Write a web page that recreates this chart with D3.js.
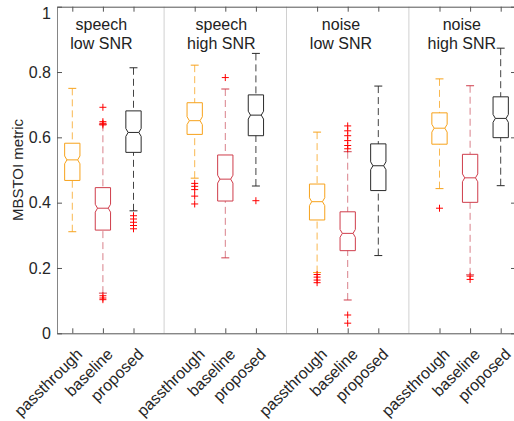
<!DOCTYPE html>
<html>
<head>
<meta charset="utf-8">
<script src="https://d3js.org/d3.v7.min.js"></script>
<style>
  body { margin: 0; background: #fff; }
  svg { font-family: "Liberation Sans", Arial, sans-serif; }
</style>
</head>
<body>
<div id="chart"></div>
<script>
// conditions (panels) and methods
var titleTop = ["speech", "speech", "noise", "noise"];
var titleBottom = ["low SNR", "high SNR", "low SNR", "high SNR"];
var methods = ["passthrough", "baseline", "proposed"];

// box statistics, one entry per box, panel by panel (passthrough, baseline, proposed)
var whiskerLow = [0.311, 0.123, 0.375,  0.475, 0.231, 0.451,  0.186, 0.102, 0.238,  0.443, 0.179, 0.452];
var q1         = [0.468, 0.316, 0.554,  0.609, 0.405, 0.605,  0.347, 0.253, 0.437,  0.579, 0.401, 0.599];
var median     = [0.531, 0.383, 0.615,  0.651, 0.472, 0.668,  0.403, 0.306, 0.513,  0.628, 0.476, 0.658];
var q3         = [0.582, 0.446, 0.681,  0.706, 0.546, 0.730,  0.457, 0.372, 0.580,  0.675, 0.548, 0.724];
var whiskerHigh= [0.750, 0.640, 0.813,  0.821, 0.748, 0.857,  0.616, 0.556, 0.757,  0.779, 0.758, 0.873];
var outliers = [
  [], [0.692, 0.648, 0.643, 0.638, 0.115, 0.108, 0.103], [0.360, 0.350, 0.340, 0.330, 0.320],
  [0.459, 0.450, 0.440, 0.420, 0.396], [0.783], [0.406],
  [0.180, 0.172, 0.163, 0.155], [0.635, 0.620, 0.605, 0.590, 0.575, 0.565, 0.056, 0.031], [],
  [0.383], [0.175, 0.165], []
];

var yTicks = [0, 0.2, 0.4, 0.6, 0.8, 1];
var yTickLabels = ["0", "0.2", "0.4", "0.6", "0.8", "1"];

var width = 514, height = 421;
var plotLeft = 57, plotRight = 516, plotTop = 6.7, plotBottom = 333.3;

var colors = {
  passthrough: {box: "#f7a21b", whisker: "#f9b850"},
  baseline: {box: "#cf3d4b", whisker: "#d9808a"},
  proposed: {box: "#2a2a2a", whisker: "#444"}
};

var svg = d3.select("#chart").append("svg")
  .attr("width", width).attr("height", height);

var x = d3.scaleLinear().domain([0.5, 15.5]).range([plotLeft, plotRight]);
var y = d3.scaleLinear().domain([0, 1]).range([plotBottom, plotTop]);

// group separators
svg.selectAll(".sep").data([4, 8, 12]).enter().append("line")
  .attr("x1", d => x(d)).attr("x2", d => x(d))
  .attr("y1", plotTop).attr("y2", plotBottom)
  .attr("stroke", "#d0d0d0").attr("stroke-width", 1);

// boxes
var boxes = [];
for (var g = 0; g < 4; g++) {
  for (var m = 0; m < 3; m++) {
    var i = g * 3 + m;
    boxes.push({
      pos: g * 4 + m + 1, method: methods[m],
      lo: whiskerLow[i], q1: q1[i], med: median[i], q3: q3[i], hi: whiskerHigh[i],
      out: outliers[i]
    });
  }
}

var halfW = 0.25, notchW = 0.175, capW = 0.13, notch = 0.012;

var bx = svg.selectAll(".box").data(boxes).enter().append("g").attr("class", "box");

// whiskers
bx.append("line")
  .attr("x1", d => x(d.pos)).attr("x2", d => x(d.pos))
  .attr("y1", d => y(d.hi)).attr("y2", d => y(d.q3))
  .attr("stroke", d => colors[d.method].whisker).attr("stroke-dasharray", "7,4");
bx.append("line")
  .attr("x1", d => x(d.pos)).attr("x2", d => x(d.pos))
  .attr("y1", d => y(d.lo)).attr("y2", d => y(d.q1))
  .attr("stroke", d => colors[d.method].whisker).attr("stroke-dasharray", "7,4");
// caps
bx.append("line")
  .attr("x1", d => x(d.pos - capW)).attr("x2", d => x(d.pos + capW))
  .attr("y1", d => y(d.hi)).attr("y2", d => y(d.hi))
  .attr("stroke", d => colors[d.method].box);
bx.append("line")
  .attr("x1", d => x(d.pos - capW)).attr("x2", d => x(d.pos + capW))
  .attr("y1", d => y(d.lo)).attr("y2", d => y(d.lo))
  .attr("stroke", d => colors[d.method].box);

// notched box
bx.append("path")
  .attr("d", function(d) {
    var pts = [
      [d.pos - halfW, d.q1], [d.pos - halfW, d.med - notch], [d.pos - notchW, d.med],
      [d.pos - halfW, d.med + notch], [d.pos - halfW, d.q3], [d.pos + halfW, d.q3],
      [d.pos + halfW, d.med + notch], [d.pos + notchW, d.med], [d.pos + halfW, d.med - notch],
      [d.pos + halfW, d.q1]
    ];
    return d3.line().x(p => x(p[0])).y(p => y(p[1]))(pts) + "Z";
  })
  .attr("fill", "none")
  .attr("stroke", d => colors[d.method].box).attr("stroke-width", 1);
// median
bx.append("line")
  .attr("x1", d => x(d.pos - notchW)).attr("x2", d => x(d.pos + notchW))
  .attr("y1", d => y(d.med)).attr("y2", d => y(d.med))
  .attr("stroke", d => colors[d.method].box);

// outliers
bx.each(function(d) {
  var grp = d3.select(this);
  d.out.forEach(function(v) {
    var cx = x(d.pos), cy = y(v), s = 3.5;
    grp.append("path")
      .attr("d", "M" + (cx - s) + "," + cy + "H" + (cx + s) + "M" + cx + "," + (cy - s) + "V" + (cy + s))
      .attr("stroke", "#ff0000").attr("stroke-width", 1).attr("fill", "none");
  });
});

// axes
var positions = d3.range(4).flatMap(g => [g * 4 + 1, g * 4 + 2, g * 4 + 3]);

var xAxis = svg.append("g")
  .attr("transform", "translate(0," + plotBottom + ")")
  .call(d3.axisBottom(x).tickValues(positions).tickSizeInner(-5).tickSizeOuter(0).tickFormat(""));
xAxis.select(".domain").attr("stroke", "#555");
xAxis.selectAll(".tick line").attr("stroke", "#555");

var xTop = svg.append("g")
  .attr("transform", "translate(0," + plotTop + ")")
  .call(d3.axisTop(x).tickValues(positions).tickSizeInner(-5).tickSizeOuter(0).tickFormat(""));
xTop.select(".domain").attr("stroke", "#555");
xTop.selectAll(".tick line").attr("stroke", "#555");

var yAxis = svg.append("g")
  .attr("transform", "translate(" + plotLeft + ",0)")
  .call(d3.axisLeft(y).tickValues(yTicks).tickSizeInner(-5).tickSizeOuter(0).tickPadding(6)
    .tickFormat((d, i) => yTickLabels[i]));
yAxis.select(".domain").attr("stroke", "#858585");
yAxis.selectAll(".tick line").attr("stroke", "#555");
yAxis.selectAll("text").attr("font-size", "16px").attr("fill", "#262626")
  .attr("font-family", "Liberation Sans, Arial, sans-serif");
// keep the top label inside the picture
yAxis.selectAll(".tick").filter(d => d === 1).select("text").attr("dy", "0.75em");

var yRight = svg.append("g")
  .attr("transform", "translate(" + plotRight + ",0)")
  .call(d3.axisRight(y).tickValues(yTicks).tickSizeInner(-5).tickSizeOuter(0).tickFormat(""));
yRight.select(".domain").attr("stroke", "#555");
yRight.selectAll(".tick line").attr("stroke", "#555");

// x tick labels, rotated
svg.selectAll(".xlab").data(boxes).enter().append("text")
  .attr("transform", d => "translate(" + (x(d.pos) + 11) + "," + (plotBottom + 22) + ") rotate(-45)")
  .attr("text-anchor", "end")
  .attr("font-size", "16px").attr("fill", "#262626")
  .text(d => d.method);

// panel titles
var titleShift = [-0.05, -0.13, -0.22, -0.27];
var titles = svg.selectAll(".title").data(titleTop).enter().append("text")
  .attr("text-anchor", "middle")
  .attr("font-size", "16px").attr("fill", "#222");
titles.append("tspan")
  .attr("x", (d, i) => x(i * 4 + 2 + titleShift[i])).attr("y", 30)
  .text(d => d);
titles.append("tspan")
  .attr("x", (d, i) => x(i * 4 + 2 + titleShift[i])).attr("y", 49)
  .text((d, i) => titleBottom[i]);

// y label
svg.append("text")
  .attr("transform", "translate(23," + ((plotTop + plotBottom) / 2) + ") rotate(-90)")
  .attr("text-anchor", "middle")
  .attr("font-size", "15px").attr("fill", "#262626")
  .text("MBSTOI metric");
</script>
</body>
</html>
